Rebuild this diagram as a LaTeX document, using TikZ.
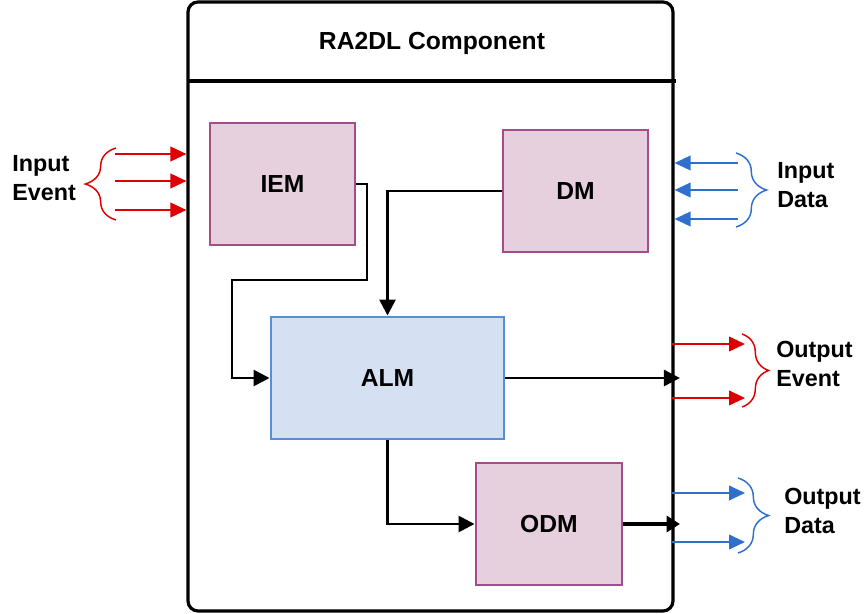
\documentclass[tikz,border=0pt]{standalone}
\usepackage{fontspec}
\setmainfont{Liberation Sans}
\usetikzlibrary{arrows.meta,decorations.pathreplacing}
\definecolor{pinkfill}{RGB}{230,208,222}
\definecolor{pinkdraw}{RGB}{162,78,140}
\definecolor{bluefill}{RGB}{213,225,243}
\definecolor{bluedraw}{RGB}{88,142,214}
\definecolor{evred}{RGB}{222,0,0}
\definecolor{dtblue}{RGB}{48,112,204}
\begin{document}
\begin{tikzpicture}[x=0.75pt,y=-0.75pt,
  outerbox/.style={draw, line width=2.4pt, rounded corners=7.5pt, minimum width=363.75pt, minimum height=456.75pt, inner sep=0pt},
  module/.style={draw=pinkdraw, fill=pinkfill, line width=2.2pt, minimum width=108.75pt, minimum height=91.5pt, inner sep=0pt, font=\fontsize{18.5}{22}\selectfont\bfseries},
  almbox/.style={draw=bluedraw, fill=bluefill, line width=2.2pt, minimum width=174.75pt, minimum height=91.5pt, inner sep=0pt, font=\fontsize{18.5}{22}\selectfont\bfseries},
  conn/.style={draw, line width=2pt, -{Triangle[length=12pt,width=12pt]}},
  thickconn/.style={draw, line width=3.6pt, -{Triangle[length=10pt,width=12pt]}},
  redarr/.style={draw=evred, line width=1.4pt, -{Triangle[length=12pt,width=11pt]}, evred},
  bluearr/.style={draw=dtblue, line width=1.4pt, -{Triangle[length=12pt,width=11pt]}, dtblue},
  brc/.style={draw=#1, line width=1.1pt, decorate, decoration={brace, amplitude=23pt}},
  lbl/.style={anchor=west, align=left, inner sep=0pt, font=\fontsize{17.5}{22}\selectfont\bfseries}
]
\useasboundingbox (0,0) rectangle (868,614);

% outer component
\node[outerbox] (outer) at (430.5,306.5) {};
\node[font=\fontsize{18.5}{22}\selectfont\bfseries] (title) at (432,43) {RA2DL Component};
\coordinate (hl) at (188,81);
\coordinate (hr) at (676,81);
\draw[line width=2.4pt] (hl) -- (hr);

% modules
\node[module] (iem) at (282.5,184) {IEM};
\node[module] (dm) at (575.5,191) {DM};
\node[almbox] (alm) at (387.5,378) {ALM};
\node[module, minimum width=109.5pt] (odm) at (549,524) {ODM};

% internal connectors
\draw[conn] (iem.east) -| (367,280) -| (232,378) -- (alm.west);
\draw[conn] (dm.west) -| (alm.north);
\draw[conn] (alm.east) -- ([xshift=4pt]alm.east -| outer.east);
\draw[conn] (alm.south) |- (odm.west);
\draw[thickconn] (odm.east) -- ([xshift=4pt]odm.east -| outer.east);

% input events
\coordinate (ie1) at (115,154);
\coordinate (ie2) at (115,181);
\coordinate (ie3) at (115,210);
\draw[redarr] (ie1) -- (ie1 -| outer.west);
\draw[redarr] (ie2) -- (ie2 -| outer.west);
\draw[redarr] (ie3) -- (ie3 -| outer.west);
\coordinate (ieb1) at (116,220);
\coordinate (ieb2) at (116,148);
\draw[brc=evred] (ieb1) -- (ieb2);
\node[lbl] (ielbl) at (12,178) {Input\\Event};

% input data
\coordinate (id1) at (738,163);
\coordinate (id2) at (738,190);
\coordinate (id3) at (738,219);
\draw[bluearr] (id1) -- (id1 -| outer.east);
\draw[bluearr] (id2) -- (id2 -| outer.east);
\draw[bluearr] (id3) -- (id3 -| outer.east);
\coordinate (idb1) at (736,153);
\coordinate (idb2) at (736,227);
\draw[brc=dtblue] (idb1) -- (idb2);
\node[lbl] (idlbl) at (777,185) {Input\\Data};

% output events
\coordinate (oe1) at (745,344);
\coordinate (oe2) at (745,398);
\draw[redarr] ([xshift=-2pt]oe1 -| outer.east) -- (oe1);
\draw[redarr] ([xshift=-2pt]oe2 -| outer.east) -- (oe2);
\coordinate (oeb1) at (742,334);
\coordinate (oeb2) at (742,407);
\draw[brc=evred, decoration={amplitude=20pt}] (oeb1) -- (oeb2);
\node[lbl] (oelbl) at (776,364) {Output\\Event};

% output data
\coordinate (od1) at (745,493);
\coordinate (od2) at (745,542);
\draw[bluearr] ([xshift=-2pt]od1 -| outer.east) -- (od1);
\draw[bluearr] ([xshift=-2pt]od2 -| outer.east) -- (od2);
\coordinate (odb1) at (738,478);
\coordinate (odb2) at (738,553);
\draw[brc=dtblue] (odb1) -- (odb2);
\node[lbl] (odlbl) at (784,511) {Output\\Data};
\end{tikzpicture}
\end{document}
